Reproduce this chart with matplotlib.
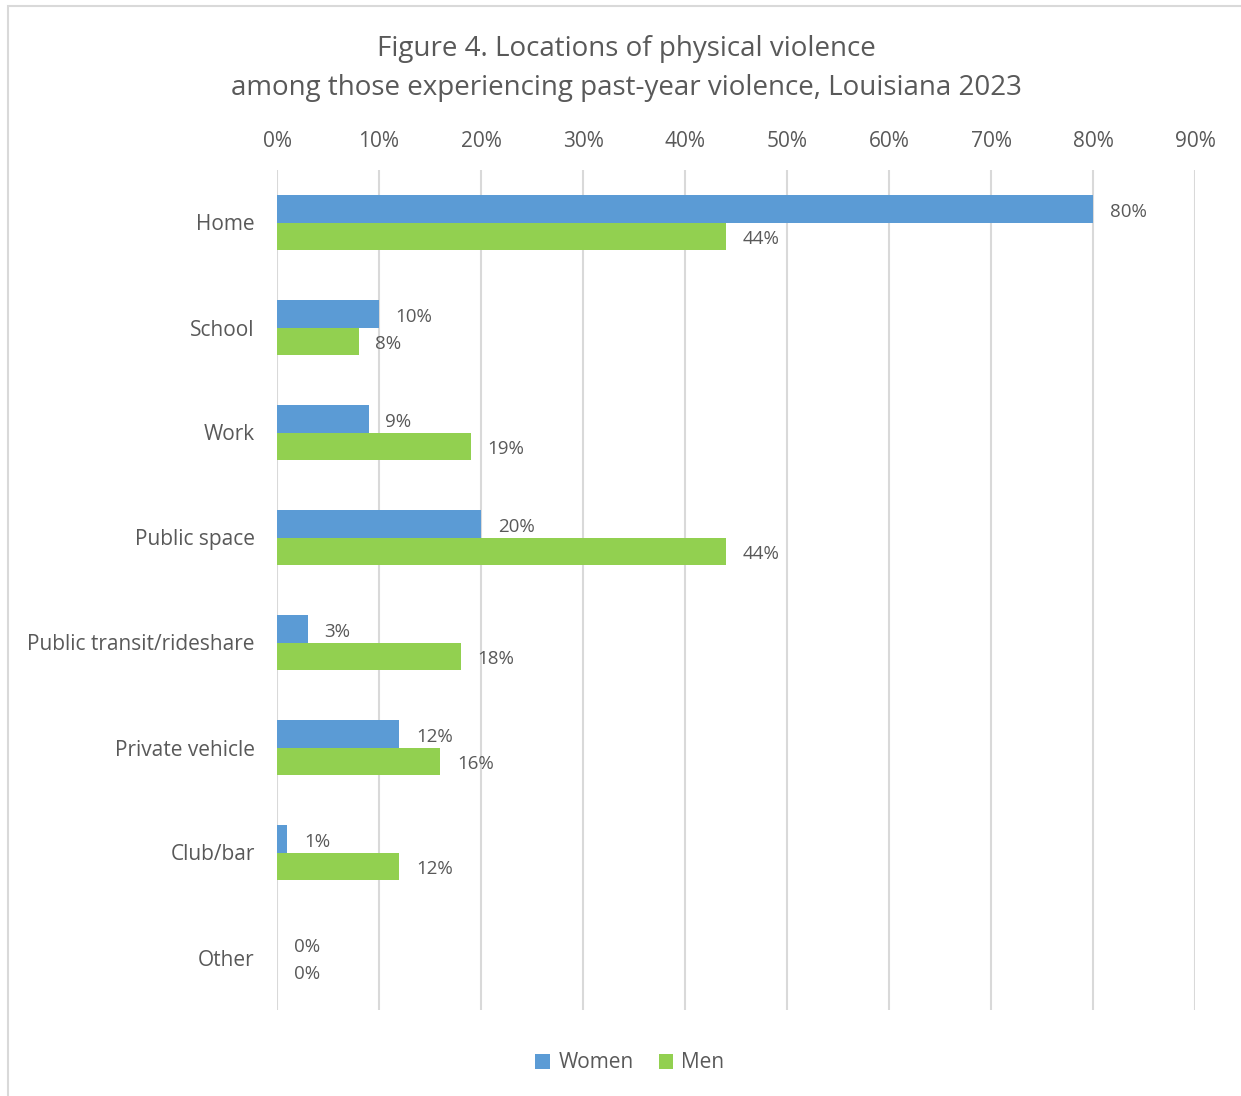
import numpy as np
import matplotlib.pyplot as plt
from matplotlib.patches import Rectangle
from matplotlib.ticker import PercentFormatter

# Locations of physical violence, share of those experiencing past-year violence
locations = ["Home", "School", "Work", "Public space", "Public transit/rideshare",
             "Private vehicle", "Club/bar", "Other"]
women = [80, 10, 9, 20, 3, 12, 1, 0]
men = [44, 8, 19, 44, 18, 16, 12, 0]

blue = "#5B9BD5"
green = "#92D050"
text_color = "#595959"

plt.rcParams["font.family"] = ["Open Sans", "DejaVu Sans"]

fig = plt.figure(figsize=(12.41, 10.96), dpi=100)
ax = fig.add_axes([277 / 1241, 1 - 1010 / 1096, 918 / 1241, 840 / 1096])

# light chart-area frame
fig.patches.append(Rectangle((8 / 1241, -0.01), 1.02, 1 - 6 / 1096 + 0.01,
                             transform=fig.transFigure, fill=False,
                             edgecolor="#D9D9D9", linewidth=1.5))

y = np.arange(len(locations))
h = 0.26
bw = ax.barh(y - h / 2, women, height=h, color=blue, label="Women", zorder=3)
bm = ax.barh(y + h / 2, men, height=h, color=green, label="Men", zorder=3)

for bars, vals in ((bw, women), (bm, men)):
    for bar, v in zip(bars, vals):
        ax.annotate(f"{v}%", (bar.get_width(), bar.get_y() + bar.get_height() / 2),
                    xytext=(12, -2), textcoords="offset points", va="center",
                    ha="left", fontsize=13.5, color=text_color)

ax.set_xlim(0, 90)
ax.set_ylim(len(locations) - 0.5, -0.5)
ax.set_xticks(range(0, 91, 10))
ax.xaxis.set_major_formatter(PercentFormatter(decimals=0))
ax.xaxis.tick_top()
ax.set_yticks(y)
ax.set_yticklabels(locations)
ax.tick_params(axis="both", length=0, labelsize=15, colors=text_color)
ax.tick_params(axis="x", pad=13)
ax.tick_params(axis="y", pad=16)
ax.grid(axis="x", color="#D9D9D9", linewidth=1.5, zorder=0)
for s in ax.spines.values():
    s.set_visible(False)

fig.text(0.505, 1 - 49 / 1096, "Figure 4. Locations of physical violence",
         ha="center", va="center", fontsize=20, color=text_color)
fig.text(0.505, 1 - 88 / 1096,
         "among those experiencing past-year violence, Louisiana 2023",
         ha="center", va="center", fontsize=20, color=text_color)

fig.legend(handles=[bw, bm], labels=["Women", "Men"], loc="center",
           bbox_to_anchor=(630 / 1241, 1 - 1063 / 1096), ncol=2, frameon=False,
           fontsize=15, labelcolor=text_color, handlelength=0.7,
           handleheight=0.7, handletextpad=0.4, columnspacing=1.2)

fig.savefig("out.png", dpi=100)
